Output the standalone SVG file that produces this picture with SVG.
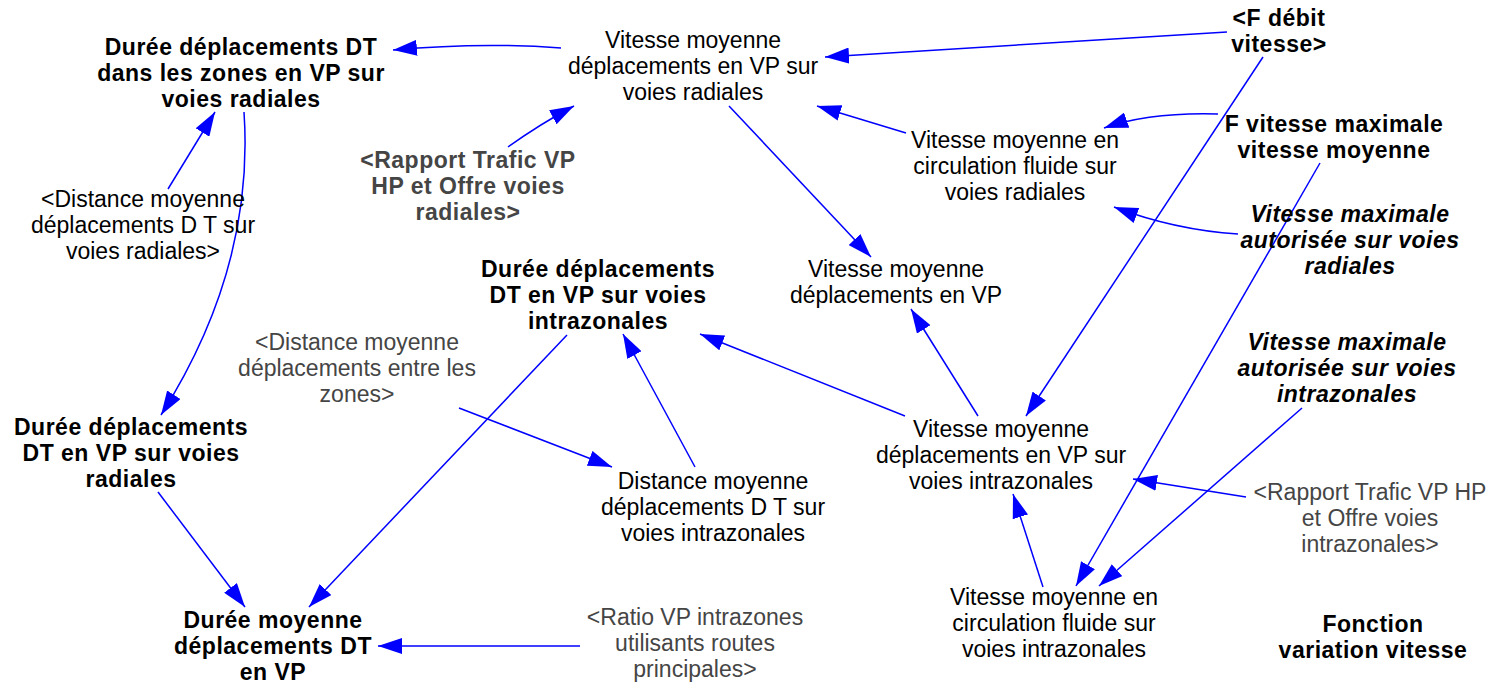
<svg xmlns="http://www.w3.org/2000/svg" width="1500" height="686" viewBox="0 0 1500 686">
<defs>
<style>
text{font-family:"Liberation Sans",Arial,sans-serif;font-size:23px;fill:#000;text-anchor:middle}
.b{font-weight:bold;font-size:23px;letter-spacing:0.5px}
.i{font-style:italic}
.g{fill:#454545}
.c path{fill:none;stroke:#0000ff;stroke-width:1.5;marker-end:url(#ah)}
</style>
<marker id="ah" markerUnits="userSpaceOnUse" viewBox="0 0 24 16" markerWidth="24" markerHeight="16" refX="24" refY="8" orient="auto">
<path d="M0,0 L24,8 L0,16 z" fill="#0000ff"/>
</marker>
</defs>
<rect width="1500" height="686" fill="#fff"/>
<g class="c" id="connectors">
<path d="M561,48 Q480,42 393,50"/>
<path d="M1227,32 L825,57"/>
<path d="M508,147 Q540,124 574,106"/>
<path d="M906,133 L817,106"/>
<path d="M729,106 L871,257"/>
<path d="M1218,114 Q1150,112 1104,128"/>
<path d="M1238,234 Q1175,230 1114,207"/>
<path d="M1263,57 L1026,416"/>
<path d="M1320,163 L1076,586"/>
<path d="M1302,408 L1099,586"/>
<path d="M1246,497 L1133,479"/>
<path d="M1043,587 L1013,494"/>
<path d="M978,416 L911,309"/>
<path d="M905,416 L700,334"/>
<path d="M695,467 L623,334"/>
<path d="M459,408 L612,467"/>
<path d="M567,335 L309,607"/>
<path d="M158,492 L245,607"/>
<path d="M580,646 L378,646"/>
<path d="M168,189 L215,112"/>
<path d="M244,112 C252,230 215,330 161,415"/>
</g>
<g id="nA"><text class="b" x="241" y="55"><tspan x="241">Durée déplacements DT</tspan><tspan x="241" dy="26">dans les zones en VP sur</tspan><tspan x="241" dy="26">voies radiales</tspan></text></g>
<g id="nB"><text x="693" y="48"><tspan x="693">Vitesse moyenne</tspan><tspan x="693" dy="26">déplacements en VP sur</tspan><tspan x="693" dy="26">voies radiales</tspan></text></g>
<g id="nC"><text class="b" x="1279" y="26"><tspan x="1279">&lt;F débit</tspan><tspan x="1279" dy="26">vitesse&gt;</tspan></text></g>
<g id="nD"><text class="b" x="1334" y="132"><tspan x="1334">F vitesse maximale</tspan><tspan x="1334" dy="26">vitesse moyenne</tspan></text></g>
<g id="nE"><text x="1015" y="148"><tspan x="1015">Vitesse moyenne en</tspan><tspan x="1015" dy="26">circulation fluide sur</tspan><tspan x="1015" dy="26">voies radiales</tspan></text></g>
<g id="nF"><text class="b i" x="1350" y="222"><tspan x="1350">Vitesse maximale</tspan><tspan x="1350" dy="26">autorisée sur voies</tspan><tspan x="1350" dy="26">radiales</tspan></text></g>
<g id="nG"><text class="b g" x="468" y="168"><tspan x="468">&lt;Rapport Trafic VP</tspan><tspan x="468" dy="26">HP et Offre voies</tspan><tspan x="468" dy="26">radiales&gt;</tspan></text></g>
<g id="nH"><text x="143" y="207"><tspan x="143">&lt;Distance moyenne</tspan><tspan x="143" dy="26">déplacements D T sur</tspan><tspan x="143" dy="26">voies radiales&gt;</tspan></text></g>
<g id="nI"><text class="b" x="598" y="277"><tspan x="598">Durée déplacements</tspan><tspan x="598" dy="26">DT en VP sur voies</tspan><tspan x="598" dy="26">intrazonales</tspan></text></g>
<g id="nJ"><text x="896" y="277"><tspan x="896">Vitesse moyenne</tspan><tspan x="896" dy="26">déplacements en VP</tspan></text></g>
<g id="nK"><text class="g" x="357" y="350"><tspan x="357">&lt;Distance moyenne</tspan><tspan x="357" dy="26">déplacements entre les</tspan><tspan x="357" dy="26">zones&gt;</tspan></text></g>
<g id="nL"><text class="b" x="131" y="435"><tspan x="131">Durée déplacements</tspan><tspan x="131" dy="26">DT en VP sur voies</tspan><tspan x="131" dy="26">radiales</tspan></text></g>
<g id="nM"><text x="713" y="489"><tspan x="713">Distance moyenne</tspan><tspan x="713" dy="26">déplacements D T sur</tspan><tspan x="713" dy="26">voies intrazonales</tspan></text></g>
<g id="nN"><text x="1001" y="437"><tspan x="1001">Vitesse moyenne</tspan><tspan x="1001" dy="26">déplacements en VP sur</tspan><tspan x="1001" dy="26">voies intrazonales</tspan></text></g>
<g id="nO"><text x="1054" y="605"><tspan x="1054">Vitesse moyenne en</tspan><tspan x="1054" dy="26">circulation fluide sur</tspan><tspan x="1054" dy="26">voies intrazonales</tspan></text></g>
<g id="nP"><text class="b i" x="1347" y="350"><tspan x="1347">Vitesse maximale</tspan><tspan x="1347" dy="26">autorisée sur voies</tspan><tspan x="1347" dy="26">intrazonales</tspan></text></g>
<g id="nQ"><text class="g" x="1370" y="500"><tspan x="1370">&lt;Rapport Trafic VP HP</tspan><tspan x="1370" dy="26">et Offre voies</tspan><tspan x="1370" dy="26">intrazonales&gt;</tspan></text></g>
<g id="nR"><text class="b" x="1373" y="632"><tspan x="1373">Fonction</tspan><tspan x="1373" dy="26">variation vitesse</tspan></text></g>
<g id="nS"><text class="b" x="273" y="628"><tspan x="273">Durée moyenne</tspan><tspan x="273" dy="26">déplacements DT</tspan><tspan x="273" dy="26">en VP</tspan></text></g>
<g id="nT"><text class="g" x="695" y="625"><tspan x="695">&lt;Ratio VP intrazones</tspan><tspan x="695" dy="26">utilisants routes</tspan><tspan x="695" dy="26">principales&gt;</tspan></text></g>
</svg>
